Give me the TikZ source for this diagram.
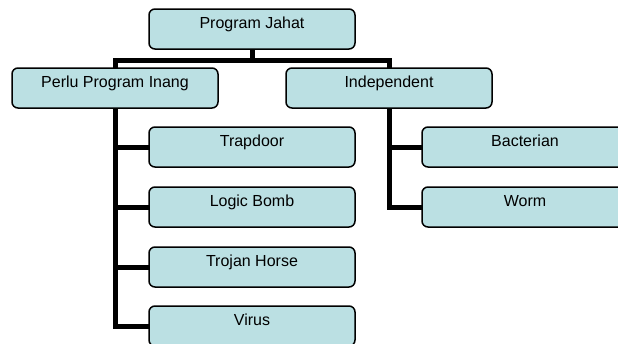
\documentclass[tikz,border=0pt]{standalone}
\usepackage{fontspec}
\setmainfont{Liberation Sans}
\definecolor{boxfill}{HTML}{BBE0E3}
\tikzset{
  orgbox/.style={draw=black, fill=boxfill, line width=1.5pt, rounded corners=6pt,
    minimum width=206pt, minimum height=40pt, inner xsep=4pt, inner ysep=7.5pt,
    text height=11.5pt, text depth=13.5pt, outer sep=0pt,
    font=\fontsize{16}{19}\selectfont},
  conn/.style={line width=5pt, black, line join=miter}
}
\begin{document}
\begin{tikzpicture}[x=1pt,y=1pt]
\useasboundingbox (0,0) rectangle (618,-343);
\clip (0,0) rectangle (618,-343);
% connectors first (behind boxes)
\coordinate (pjs) at (252,-48);
\coordinate (ps) at (115,-108);
\coordinate (is) at (389,-108);
\coordinate (pn) at (115,-68);
\coordinate (in) at (389,-68);
\coordinate (hl) at (115,-60);
\coordinate (hr) at (389,-60);
\coordinate (hm) at (252,-60);
\coordinate (tw) at (149,-147);
\coordinate (lw) at (149,-207);
\coordinate (jw) at (149,-267);
\coordinate (vw) at (149,-326);
\coordinate (bw) at (422,-147);
\coordinate (ww) at (422,-207);
\draw[conn] (pjs) -- (hm);
\draw[conn] (pn) -- (hl) -- (hr) -- (in);
\draw[conn] (ps) |- (tw);
\draw[conn] (ps) |- (lw);
\draw[conn] (ps) |- (jw);
\draw[conn] (ps) |- (vw);
\draw[conn] (is) |- (bw);
\draw[conn] (is) |- (ww);
% boxes
\node[orgbox] (PJ) at (252,-29) {Program Jahat};
\node[orgbox] (P) at (115,-88) {Perlu Program Inang};
\node[orgbox] (I) at (389,-88) {Independent};
\node[orgbox] (T) at (252,-147) {Trapdoor};
\node[orgbox] (L) at (252,-207) {Logic Bomb};
\node[orgbox] (J) at (252,-267) {Trojan Horse};
\node[orgbox] (V) at (252,-326) {Virus};
\node[orgbox] (B) at (525,-147) {Bacterian};
\node[orgbox] (W) at (525,-207) {Worm};
\end{tikzpicture}
\end{document}
